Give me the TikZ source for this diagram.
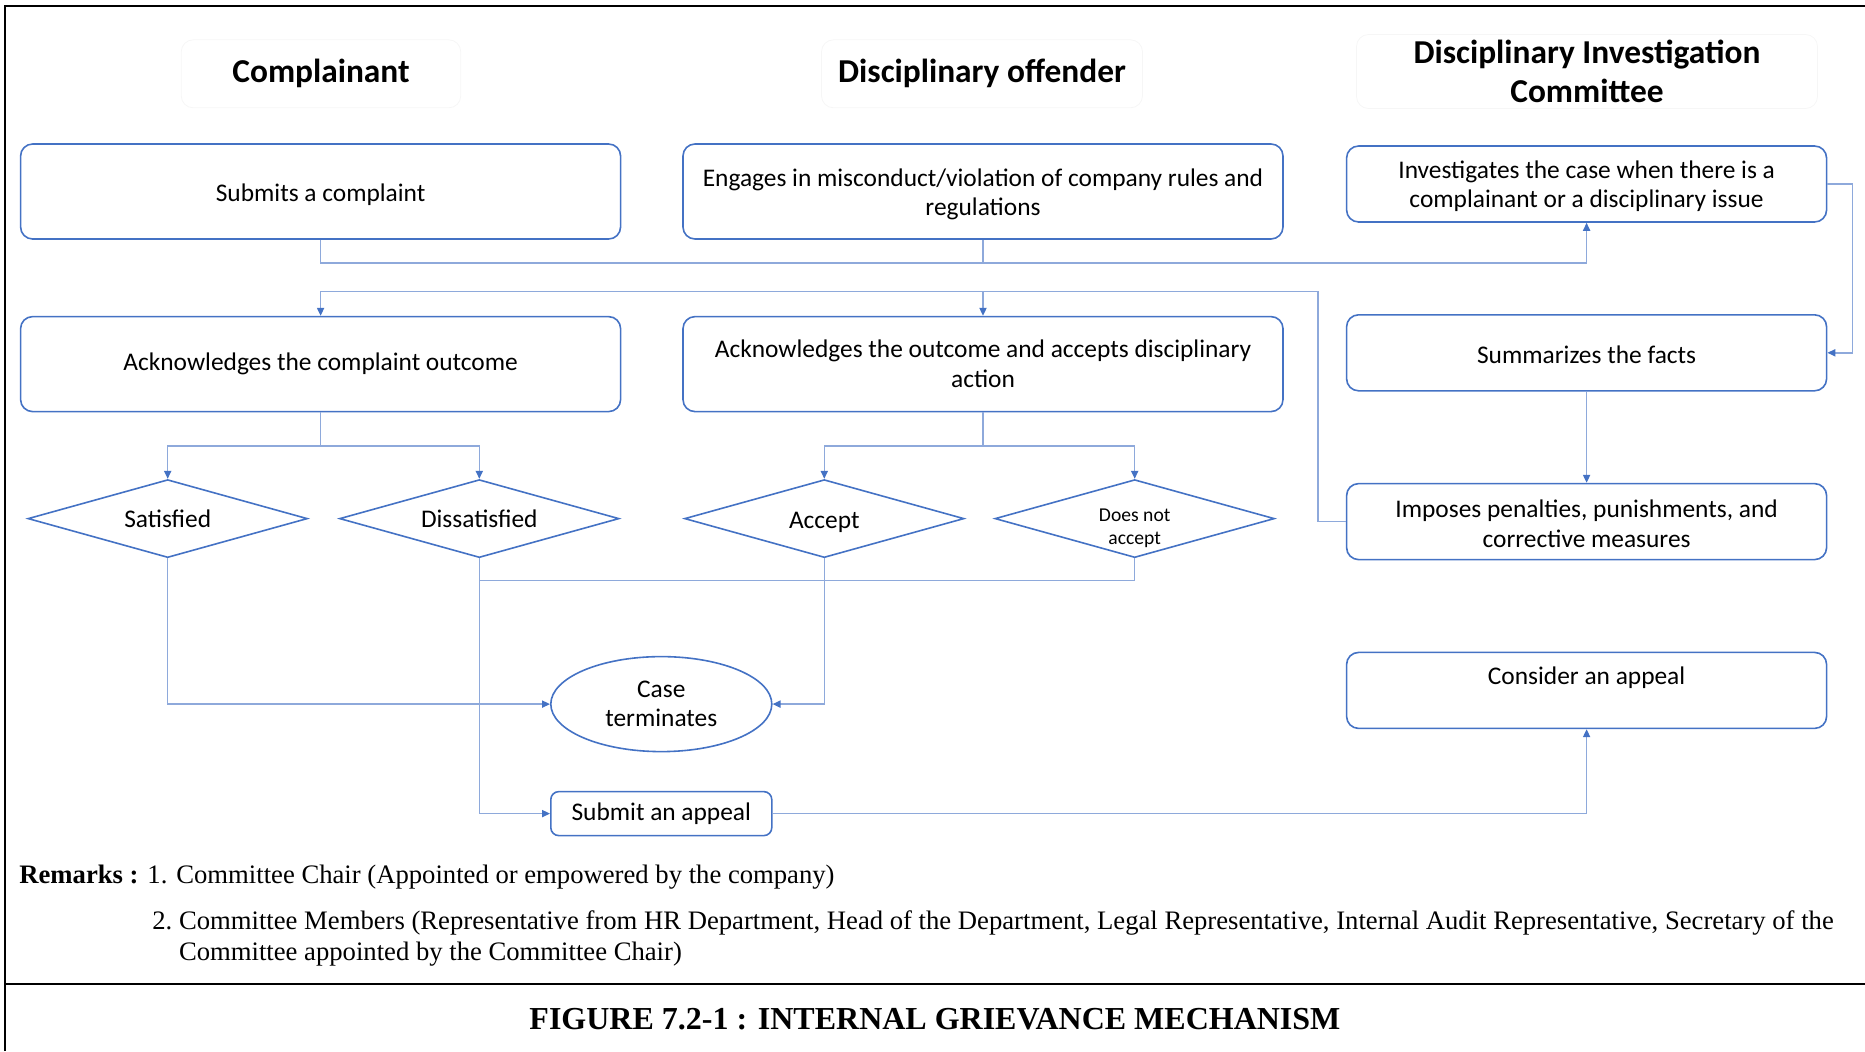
\documentclass[tikz,border=0pt]{standalone}
\usepackage{fontspec}
\setmainfont{Liberation Serif}
\newfontfamily\calibri{Carlito}
\usepackage{tikz}
\usetikzlibrary{arrows.meta,positioning,shapes.geometric}
\definecolor{boxblue}{HTML}{4472C4}
\definecolor{lineblue}{HTML}{8EA9DB}
\definecolor{lanegray}{HTML}{F6F6F6}
\newcommand{\sinktext}[2]{\raisebox{-#1}[\height][\depth]{\begin{tabular}{@{}c@{}}#2\end{tabular}}}

\begin{document}
\begin{tikzpicture}[x=0.5pt,y=-0.5pt,
  lane/.style={draw=lanegray, rounded corners=6pt, minimum height=34pt, inner sep=0pt, align=center, font=\calibri\bfseries\fontsize{16.7}{19.6}\selectfont},
  act/.style={draw=boxblue, line width=0.8pt, rounded corners=6pt, minimum width=300pt, minimum height=47.5pt, align=center, font=\calibri\fontsize{12.7}{14.9}\selectfont},
  cmt/.style={act, minimum width=240pt, minimum height=38pt},
  choice/.style={diamond, draw=boxblue, line width=0.8pt, aspect=3.6, minimum width=139.75pt, minimum height=39pt, inner sep=0pt, align=center, font=\calibri\fontsize{12.7}{14.9}\selectfont},
  arr/.style={lineblue, line width=0.7pt, -{Triangle[length=4pt,width=3.6pt,color=boxblue]}},
  link/.style={lineblue, line width=0.7pt}
]
  \useasboundingbox (0,0) rectangle (1865,1051);

  % frame
  \draw[line width=1pt] (4.8,1051) -- (4.8,6) -- (1865,6);
  \draw[line width=1pt] (4.8,983.6) -- (1865,983.6);

  % lanes
  \node[lane, minimum width=139.75pt] (h1) at (321,73.8) {Complainant};
  \node[lane, minimum width=160.5pt] (h2) at (982,73.8) {Disciplinary offender};
  \node[lane, minimum width=230.5pt, minimum height=37pt] (h3) at (1587,71.5) {Disciplinary Investigation\\Committee};

  \node[act] (b1) at (320.6,191.5) {\sinktext{1.8pt}{Submits a complaint}};
  \node[act, right=30.4pt of b1] (b2) {\sinktext{1.8pt}{Engages in misconduct/violation of company rules and\\regulations}};
  \node[cmt] (b3) at (1586.6,184) {\sinktext{1.5pt}{Investigates the case when there is a\\complainant or a disciplinary issue}};
  \node[act, below=38pt of b1] (b4) {Acknowledges the complaint outcome};
  \node[act, below=38pt of b2] (b5) {Acknowledges the outcome and accepts disciplinary\\action};
  \node[cmt, below=45.6pt of b3] (b6) {\sinktext{2.4pt}{Summarizes the facts}};
  \node[cmt, below=45.6pt of b6] (b7) {\sinktext{2.4pt}{Imposes penalties, punishments, and\\corrective measures}};
  \node[cmt, below=45.6pt of b7] (b8) {Consider an appeal\\\mbox{}};

  \node[choice] (sat) at (167.7,518.6) {Satisfied};
  \node[choice] (dis) at (479.3,518.6) {Dissatisfied};
  \node[choice] (acc) at (824.3,518.6) {\raisebox{-1.8pt}[\height][\depth]{Accept}};
  \node[choice, font=\calibri\fontsize{9.8}{11.3}\selectfont] (nacc) at (1134.7,518.6) {\sinktext{4.8pt}{Does not\\accept}};

  \node[ellipse, draw=boxblue, line width=0.8pt, minimum width=110.5pt, minimum height=47.5pt, inner sep=0pt, align=center, font=\calibri\fontsize{12.7}{14.3}\selectfont] (case) at (661.3,704.1) {Case\\terminates};
  \node[draw=boxblue, line width=0.8pt, rounded corners=4pt, minimum width=110.5pt, minimum height=22pt, font=\calibri\fontsize{12.7}{14.9}\selectfont] (appeal) at (661.3,813.6) {Submit an appeal};

  \coordinate (lv1) at (0,262.9);
  \coordinate (rx) at (1317.9,291.4);
  \coordinate (lv3) at (0,446);
  \coordinate (lv4) at (0,580.4);

  \draw[arr] (b1.south) -- (b1.south |- lv1) -| (b3.south);
  \draw[link] (b2.south) -- (b2.south |- lv1);
  \draw[arr] (b3.east) -- ++(25,0) |- (b6.east);
  \draw[arr] (b6) -- (b7);
  \draw[arr] (b7.west) -| (rx) -| (b4.north);
  \draw[arr] (b5.north |- rx) -- (b5.north);
  \draw[arr] (b4.south) -- (b4.south |- lv3) -| (sat.north);
  \draw[arr] (b4.south |- lv3) -| (dis.north);
  \draw[arr] (b5.south) -- (b5.south |- lv3) -| (acc.north);
  \draw[arr] (b5.south |- lv3) -| (nacc.north);
  \draw[arr] (sat.south) |- (case.west);
  \draw[arr] (acc.south) |- (case.east);
  \draw[arr] (dis.south) |- (appeal.west);
  \draw[link] (nacc.south) |- (dis.south |- lv4);
  \draw[arr] (appeal.east) -| (b8.south);

  % remarks
  \node[anchor=base west, inner sep=0pt, font=\fontsize{13.33}{15.5}\selectfont] (rem1) at (19,883) {\textbf{Remarks :} 1. Committee Chair (Appointed or empowered by the company)};
  \node[anchor=base west, inner sep=0pt, font=\fontsize{13.33}{15.5}\selectfont] (rem2) at (152,929.6) {2.~\begin{tabular}[t]{@{}l@{}}Committee Members (Representative from HR Department, Head of the Department, Legal Representative, Internal Audit Representative, Secretary of the\\Committee appointed by the Committee Chair)\end{tabular}};
  \node[font=\bfseries\fontsize{16}{19}\selectfont] (title) at (935,1019) {FIGURE 7.2-1 : INTERNAL GRIEVANCE MECHANISM};
\end{tikzpicture}
\end{document}
